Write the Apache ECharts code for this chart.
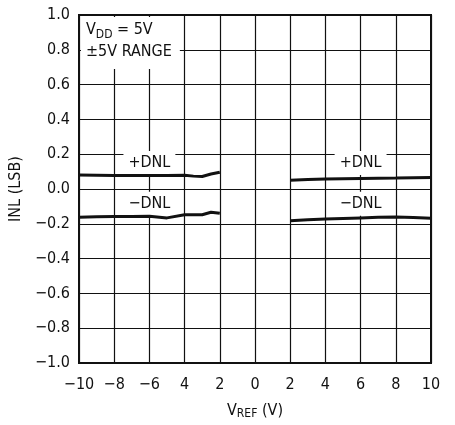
<!DOCTYPE html>
<html>
<head>
<meta charset="utf-8">
<script src="https://cdn.jsdelivr.net/npm/echarts@6/dist/echarts.min.js"></script>
<style>
  html, body { margin: 0; padding: 0; background: #fff; }
  #chart { width: 455px; height: 425px; }
</style>
</head>
<body>
<div id="chart"></div>
<script>
// Reference voltage sweep, negative and positive branches
const vrefNeg = [-10, -9, -8, -7, -6, -5, -4, -3.5, -3, -2.5, -2];
const plusDnlNeg = [0.080, 0.079, 0.078, 0.078, 0.077, 0.078, 0.079, 0.074, 0.072, 0.086, 0.096];
const minusDnlNeg = [-0.163, -0.160, -0.158, -0.158, -0.157, -0.166, -0.148, -0.148, -0.148, -0.134, -0.140];

const vrefPos = [2, 3, 4, 5, 6, 7, 8, 9, 10];
const plusDnlPos = [0.051, 0.054, 0.057, 0.059, 0.061, 0.062, 0.063, 0.065, 0.066];
const minusDnlPos = [-0.182, -0.177, -0.172, -0.169, -0.166, -0.163, -0.161, -0.164, -0.168];

// Tick labels as printed on the axes
const xTickLabels = ['−10', '−8', '−6', '4', '2', '0', '2', '4', '6', '8', '10'];
const yTickLabels = ['−1.0', '−0.8', '−0.6', '−0.4', '−0.2', '0.0', '0.2', '0.4', '0.6', '0.8', '1.0'];

const FONT = '"Liberation Sans Narrow", "DejaVu Sans Condensed", "Liberation Sans", sans-serif';
const INK = '#111';

const pair = (xs, ys) => xs.map((x, i) => [x, ys[i]]);

const curve = (name, data) => ({
  name, type: 'line', data, showSymbol: false, smooth: false,
  lineStyle: { color: INK, width: 3 }, z: 5
});

const chart = echarts.init(document.getElementById('chart'), null, { renderer: 'canvas' });
chart.setOption({
  animation: false,
  backgroundColor: '#fff',
  grid: {
    left: 79, right: 24, top: 15, bottom: 59,
    show: true, borderColor: INK, borderWidth: 2, backgroundColor: 'transparent'
  },
  xAxis: {
    type: 'value', min: -10, max: 10, interval: 2,
    name: 'V{sub|REF} (V)', nameLocation: 'middle', nameGap: 39,
    nameTextStyle: {
      color: INK, fontFamily: FONT, fontSize: 16,
      rich: { sub: { fontFamily: FONT, fontSize: 12, verticalAlign: 'bottom', padding: [6, 0, 0, 0], color: INK } }
    },
    axisLine: { show: true, onZero: false, lineStyle: { color: INK, width: 2 } },
    axisTick: { show: false },
    splitLine: { show: true, lineStyle: { color: INK, width: 1.2 } },
    axisLabel: {
      color: INK, fontFamily: FONT, fontSize: 16, margin: 14,
      formatter: v => xTickLabels[Math.round((v + 10) / 2)]
    }
  },
  yAxis: {
    type: 'value', min: -1, max: 1, interval: 0.2,
    name: 'INL (LSB)', nameLocation: 'middle', nameGap: 32, nameRotate: 90,
    nameTextStyle: { color: INK, fontFamily: FONT, fontSize: 16 },
    axisLine: { show: true, onZero: false, lineStyle: { color: INK, width: 2 } },
    axisTick: { show: false },
    splitLine: { show: true, lineStyle: { color: INK, width: 1.2 } },
    axisLabel: {
      color: INK, fontFamily: FONT, fontSize: 16, margin: 9, padding: [5, 0, 0, 0],
      formatter: v => yTickLabels[Math.round((v + 1) / 0.2)]
    }
  },
  series: [
    curve('+DNL (negative VREF)', pair(vrefNeg, plusDnlNeg)),
    curve('−DNL (negative VREF)', pair(vrefNeg, minusDnlNeg)),
    curve('+DNL (positive VREF)', pair(vrefPos, plusDnlPos)),
    curve('−DNL (positive VREF)', pair(vrefPos, minusDnlPos))
  ]
});

// Condition note in the upper-left corner
const note = {
  type: 'text', left: 81, top: 17, z: 10,
  style: {
    text: 'V{sub|DD} = 5V\n±5V RANGE',
    fill: INK, font: '16px ' + FONT, lineHeight: 22,
    backgroundColor: '#fff', padding: [2, 8, 6, 5],
    rich: { sub: { font: '12px ' + FONT, fill: INK, verticalAlign: 'bottom', padding: [6, 0, 0, 0] } }
  }
};

// Curve tags on white boxes, anchored in data coordinates; drawn under the curves
const tags = [
  { at: [-6, 0.15], text: '+DNL' },
  { at: [-6, -0.085], text: '−DNL' },
  { at: [6, 0.15], text: '+DNL' },
  { at: [6, -0.085], text: '−DNL' }
];
const tagGraphics = tags.map(t => {
  const p = chart.convertToPixel({ gridIndex: 0 }, t.at);
  return {
    type: 'text', x: p[0], y: p[1], z: 1,
    style: {
      text: t.text, fill: INK, font: '16px ' + FONT,
      align: 'center', verticalAlign: 'middle',
      backgroundColor: '#fff', padding: [5, 5, 3, 5]
    }
  };
});

chart.setOption({ graphic: [note].concat(tagGraphics) });
</script>
</body>
</html>
